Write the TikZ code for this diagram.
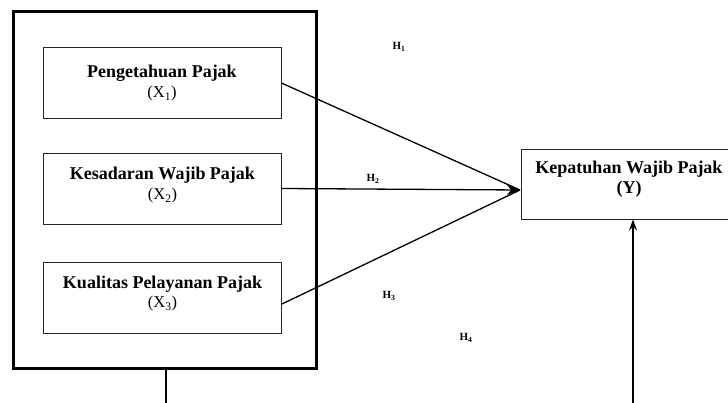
\documentclass[tikz,border=0pt]{standalone}
\usepackage{fontspec}
\setmainfont{Liberation Serif}
\usetikzlibrary{arrows.meta}
\tikzset{
  varbox/.style={draw=black!85, line width=0.9pt, minimum width=238pt, minimum height=71pt, inner sep=0pt},
  title/.style={font=\fontsize{18}{20}\selectfont\bfseries, inner sep=0pt},
  sublbl/.style={font=\fontsize{16.5}{18}\selectfont, inner sep=0pt},
  hlbl/.style={font=\fontsize{11}{12}\selectfont\bfseries, inner sep=0pt},
  conn/.style={line width=1.3pt},
  tipconn/.style={line width=1.3pt, -{Stealth[length=13pt,width=10pt]}}
}
\begin{document}
\begin{tikzpicture}[x=1pt,y=-1pt]
\useasboundingbox (0,0) rectangle (728,403);
% outer box
\node[draw, line width=3pt, minimum width=303pt, minimum height=356pt, inner sep=0pt] (outer) at (164.5,190) {};
% inner boxes
\node[varbox] (b1) at (162,83) {};
\node[title] (t1) at (162,73) {Pengetahuan Pajak};
\node[sublbl] (s1) at (162,93.5) {(X\textsubscript{1})};
\node[varbox] (b2) at (162.5,188.5) {};
\node[title] (t2) at (162.5,175) {Kesadaran Wajib Pajak};
\node[sublbl] (s2) at (162.5,195.5) {(X\textsubscript{2})};
\node[varbox] (b3) at (162.5,298) {};
\node[title] (t3) at (162.5,284) {Kualitas Pelayanan Pajak};
\node[sublbl] (s3) at (162.5,304) {(X\textsubscript{3})};
% dependent box
\node[draw=black!85, line width=0.9pt, minimum width=212pt, minimum height=70pt, inner sep=0pt] (Y) at (627,184) {};
\node[title] (ty) at (629,169) {Kepatuhan Wajib Pajak};
\node[title] (sy) at (629,189.5) {(Y)};
% convergence point
\coordinate (conv) at (520,190);
\draw[conn] (b1.east) -- (conv);
\draw[conn] ([yshift=-6pt]b3.east) -- (conv);
\draw[tipconn] (b2.east) -- (conv);
% bottom lines
\coordinate (bot1) at (166,403);
\coordinate (bot2) at (633,403);
\draw[line width=1.3pt] (outer.south -| bot1) -- (bot1);
\draw[line width=1.3pt, -{Stealth[length=11pt,width=8pt]}] (bot2) -- (bot2 |- Y.south);
% hypothesis labels
\node[hlbl] (h1) at (399,47) {H\textsubscript{1}};
\node[hlbl] (h2) at (373,179) {H\textsubscript{2}};
\node[hlbl] (h3) at (389,296) {H\textsubscript{3}};
\node[hlbl] (h4) at (466,338) {H\textsubscript{4}};
\end{tikzpicture}
\end{document}
